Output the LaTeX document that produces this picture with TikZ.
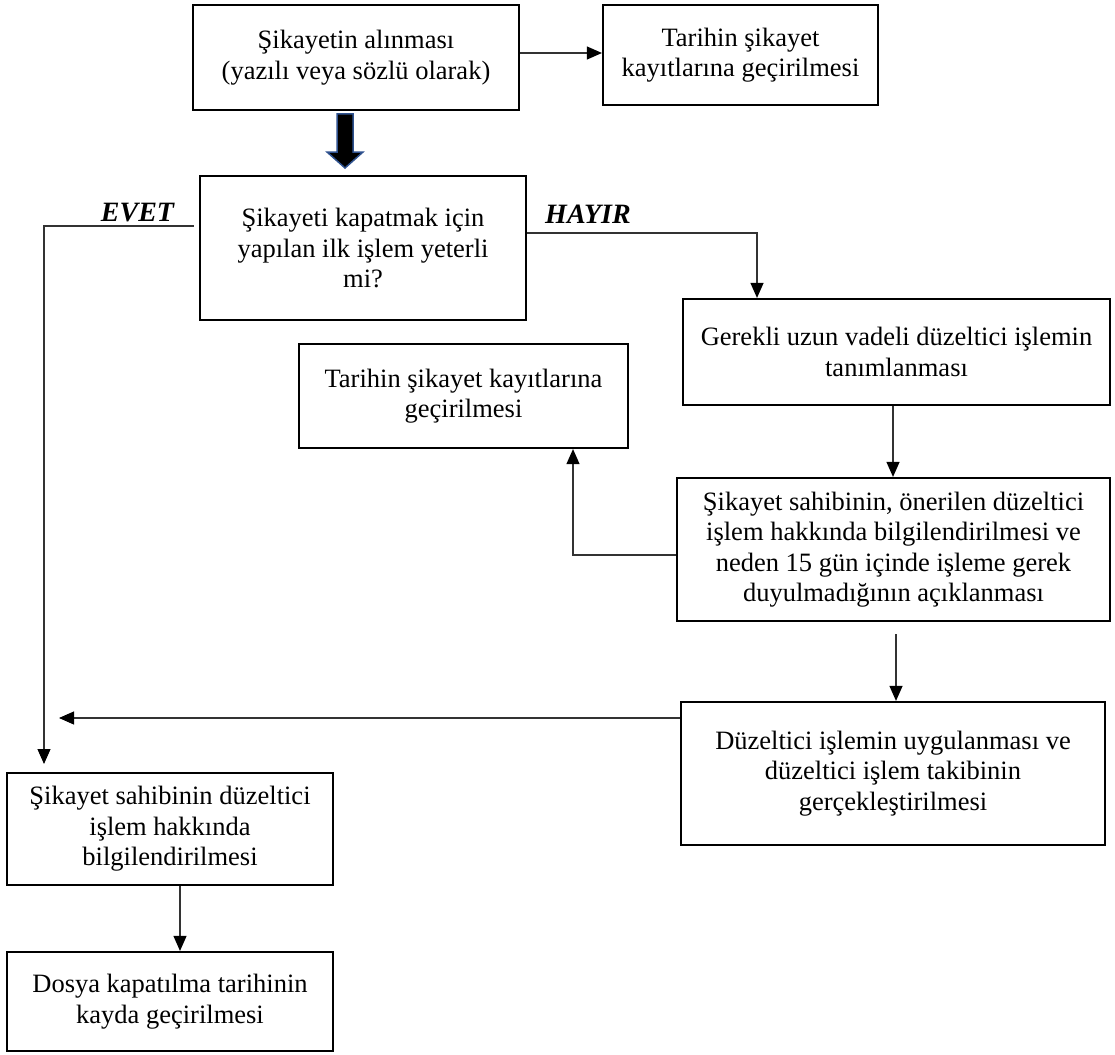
\documentclass[tikz,border=0pt]{standalone}
\usepackage{fontspec}
\setmainfont{Liberation Serif}
\usetikzlibrary{arrows.meta}
\definecolor{arrowblue}{RGB}{47,82,143}
\begin{document}
\begin{tikzpicture}[x=1pt,y=-1pt,
  every node/.style={font=\fontsize{26.5}{30.5}\selectfont},
  box/.style={draw, line width=2.2pt, align=center, inner sep=0pt},
  conn/.style={draw=black!80, line width=1.1pt},
  arr/.style={conn, -{Triangle[length=15pt,width=13pt,color=black]}},
  lab/.style={font=\fontsize{28}{32}\selectfont\bfseries\itshape, inner sep=0pt}]
\useasboundingbox (0,0) rectangle (1115,1054);

\node[box, minimum width=326pt, minimum height=105pt] (b1) at (356,57.5) {Şikayetin alınması\\(yazılı veya sözlü olarak)};
\node[box, minimum width=275pt, minimum height=100pt] (b2) at (740.5,55) {Tarihin şikayet\\kayıtlarına geçirilmesi};
\node[box, minimum width=326pt, minimum height=144pt] (b3) at (363,248) {Şikayeti kapatmak için\\yapılan ilk işlem yeterli\\mi?};
\node[box, minimum width=427pt, minimum height=106pt] (b4) at (896.5,352) {Gerekli uzun vadeli düzeltici işlemin\\tanımlanması};
\node[box, minimum width=329pt, minimum height=104pt] (b5) at (463.5,396) {Tarihin şikayet kayıtlarına\\geçirilmesi};
\node[box, minimum width=433pt, minimum height=143pt] (b6) at (893.5,549.5) {Şikayet sahibinin, önerilen düzeltici\\işlem hakkında bilgilendirilmesi ve\\neden 15 gün içinde işleme gerek\\duyulmadığının açıklanması};
\node[box, minimum width=424pt, minimum height=143pt] (b7) at (893,773.5) {Düzeltici işlemin uygulanması ve\\düzeltici işlem takibinin\\gerçekleştirilmesi};
\node[box, minimum width=326pt, minimum height=112pt] (b8) at (170,829) {Şikayet sahibinin düzeltici\\işlem hakkında\\bilgilendirilmesi};
\node[box, minimum width=326pt, minimum height=99pt] (b9) at (170,1001.5) {Dosya kapatılma tarihinin\\kayda geçirilmesi};

\node[lab] (evet) at (137.5,213) {EVET};
\node[lab] (hayir) at (588,214) {HAYIR};

% block arrow
\draw[draw=arrowblue, fill=black, line width=1.5pt, line join=miter]
  (337,114) -- (353,114) -- (353,152) -- (363,152) -- (345,168) -- (327,152) -- (337,152) -- cycle;

\coordinate (evetEnd) at (44,764);
\coordinate (hx) at (757,0);
\coordinate (leftEnd) at (59,718);

\draw[arr] ([yshift=4.5pt]b1.east) -- ([yshift=4.5pt]b1.east -| b2.west);
\draw[arr] ([xshift=-5pt,yshift=22pt]b3.west) -| (evetEnd);
\draw[arr] ([yshift=15pt]b3.east) -| (hx |- b4.north);
\draw[arr] ([xshift=-3.5pt]b4.south) -- ([xshift=-3.5pt]b4.south |- b6.north);
\draw[arr] ([yshift=-5.5pt]b6.west) -| ([xshift=109.5pt]b5.south);
\draw[arr] ([xshift=2.5pt,yshift=-12pt]b6.south) -- ([xshift=2.5pt]b6.south |- b7.north);
\draw[arr] ([yshift=55.5pt]b7.west) -- (leftEnd);
\draw[arr] ([xshift=10pt]b8.south) -- ([xshift=10pt]b8.south |- b9.north);
\end{tikzpicture}
\end{document}
